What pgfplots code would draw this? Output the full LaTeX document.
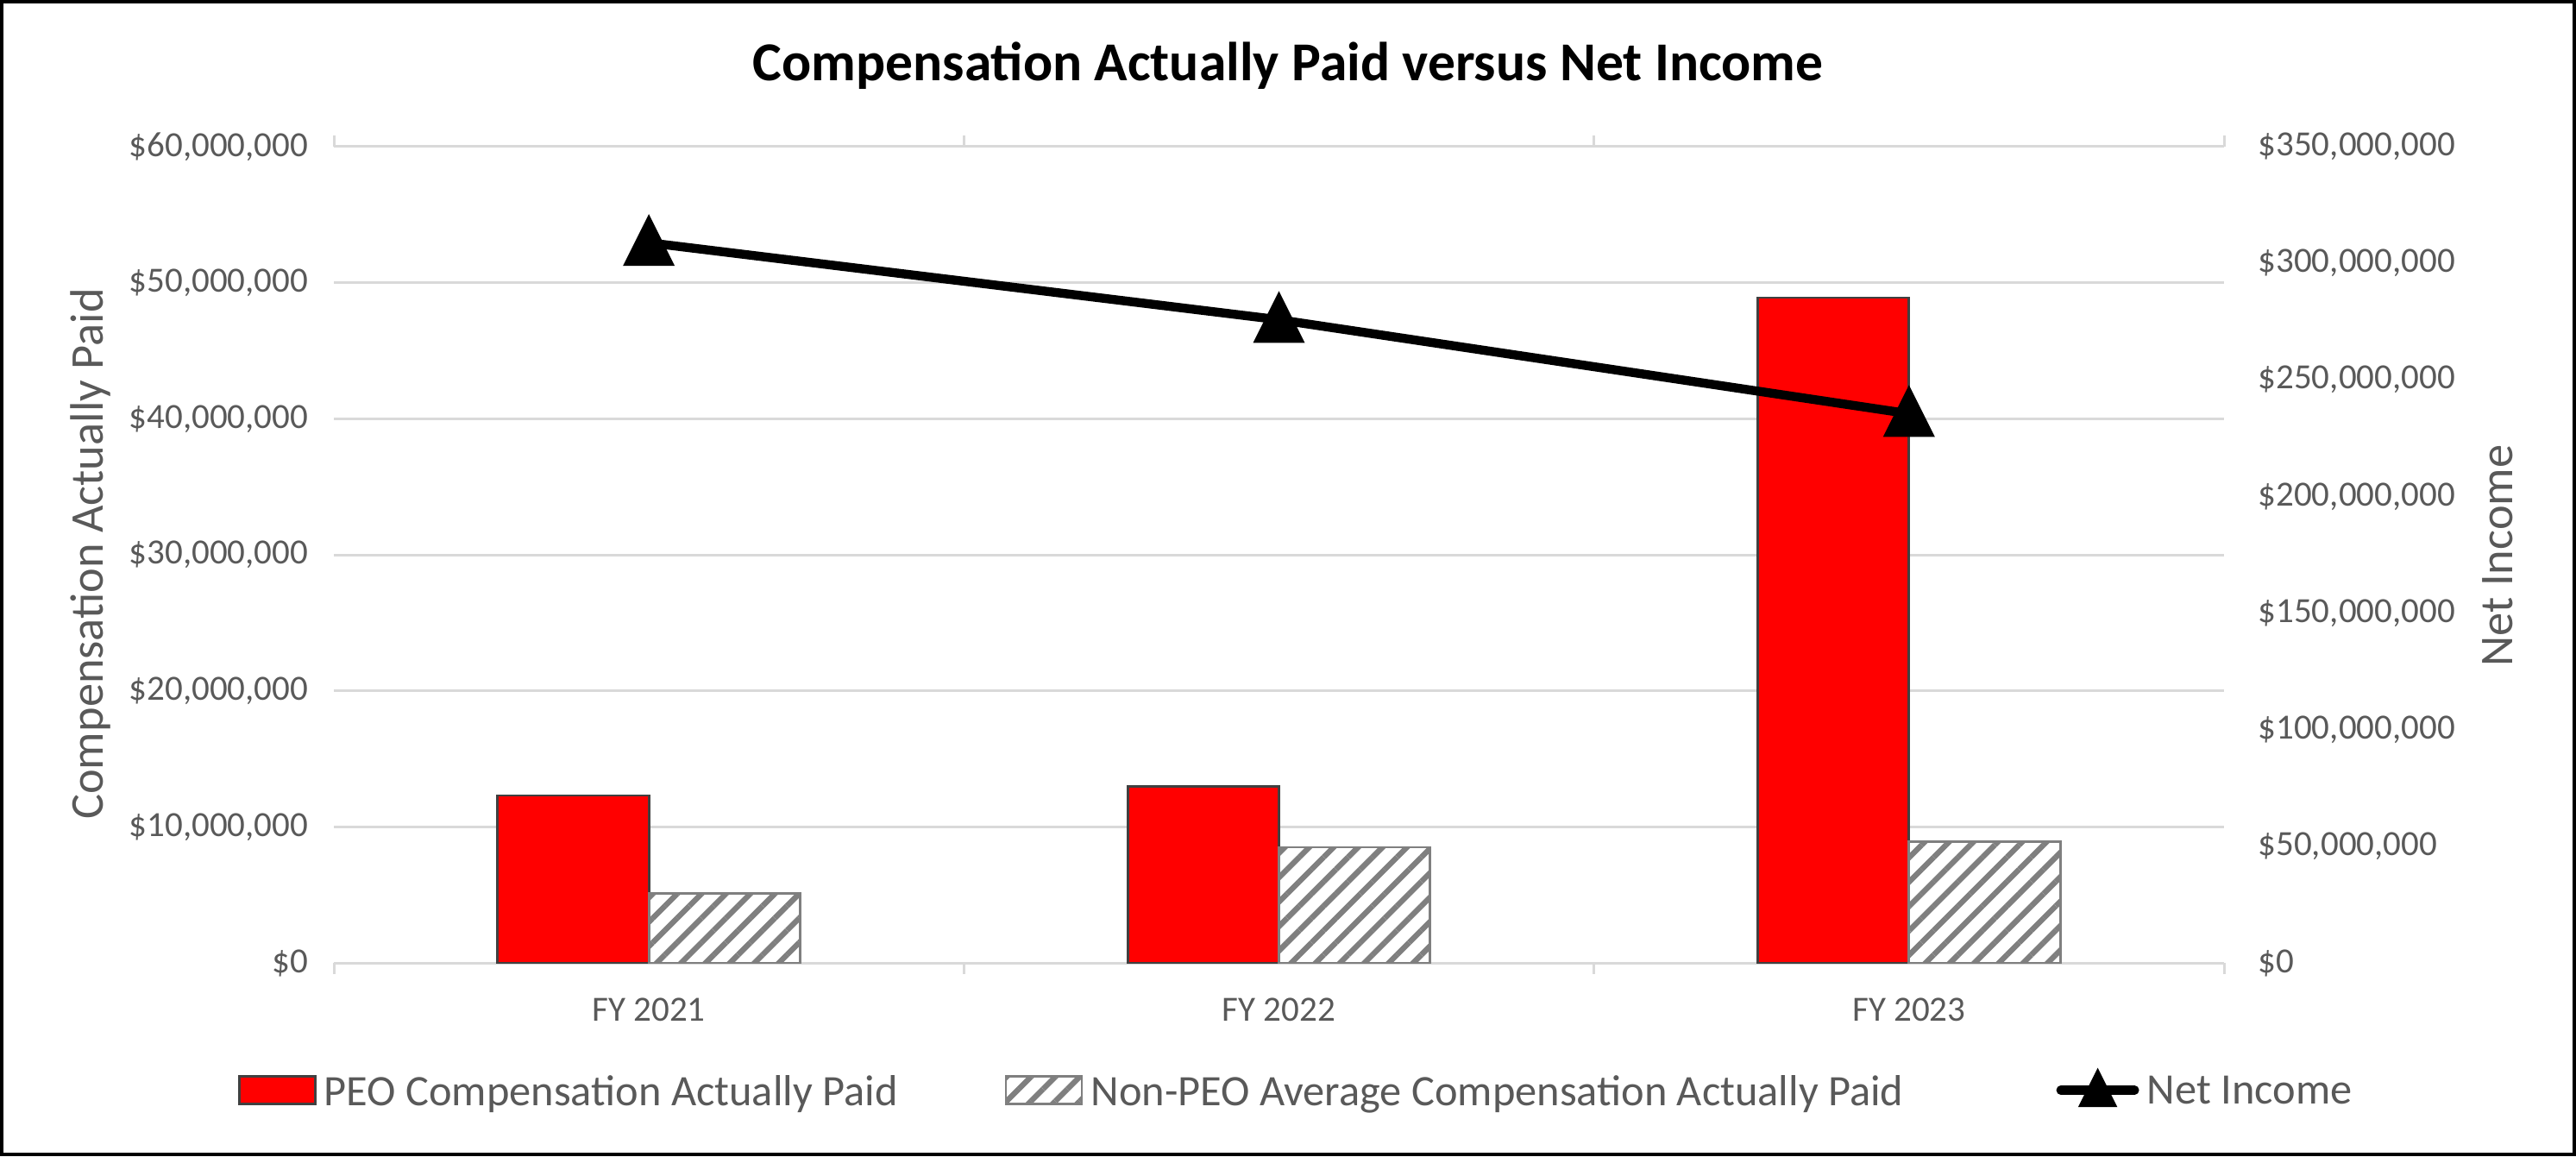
\documentclass[border=0pt]{standalone}
\usepackage{pgfplots}
\pgfplotsset{compat=1.18}
\usepackage{fontspec}
\setmainfont{Carlito}
\usetikzlibrary{patterns.meta}
\definecolor{txt}{HTML}{595959}
\definecolor{grd}{HTML}{D9D9D9}
\definecolor{hatch}{HTML}{7F7F7F}
\definecolor{bedge}{HTML}{404040}
\begin{document}
\begin{tikzpicture}
\useasboundingbox (0,0) rectangle (746.5pt,335pt);
\draw[black, line width=0.9pt] (0.45pt,0.45pt) rectangle (746.05pt,334.55pt);
\node[font=\fontsize{15.9}{19}\selectfont\bfseries, text=black] at (373.25pt,316pt) {Compensation Actually Paid versus Net Income};
\node[rotate=90, font=\fontsize{13.6}{16}\selectfont, text=txt] at (26.25pt,174.5pt) {Compensation Actually Paid};
\node[rotate=90, font=\fontsize{13.6}{16}\selectfont, text=txt] at (723.75pt,174pt) {Net Income};

\begin{axis}[
  at={(96.75pt,56pt)}, anchor=south west, scale only axis,
  width=547.75pt, height=236.5pt,
  xmin=-0.5, xmax=2.5, ymin=0, ymax=60000000,
  xtick={0,1,2}, xticklabels={FY 2021,FY 2022,FY 2023},
  ytick={0,10000000,20000000,30000000,40000000,50000000,60000000},
  yticklabels={{\$0},{\$10,000,000},{\$20,000,000},{\$30,000,000},{\$40,000,000},{\$50,000,000},{\$60,000,000}},
  scaled y ticks=false,
  ymajorgrids, grid style={grd, line width=0.75pt},
  axis line style={draw=none},
  major tick length=0pt,
  extra x ticks={-0.5,0.5,1.5,2.5}, extra x tick labels={},
  extra x tick style={grid=none, major tick length=3.2pt, tick align=outside, tick style={draw=grd, line width=0.75pt}},
  xticklabel style={inner sep=0pt, yshift=-10pt, font=\fontsize{10.25}{12}\selectfont, text=txt},
  yticklabel style={inner sep=0pt, anchor=east, xshift=-7.25pt, font=\fontsize{10.25}{12}\selectfont, text=txt},
]
\addplot[ybar, bar width=0.24, bar shift=-0.12, fill=red, draw=bedge, line width=0.7pt]
  coordinates {(0,12310000) (1,12950000) (2,48900000)};
\addplot[ybar, bar width=0.24, bar shift=0.12, draw=hatch, line width=0.7pt,
  pattern={Lines[angle=45,distance=5pt,line width=1.6pt]}, pattern color=hatch]
  coordinates {(0,5100000) (1,8500000) (2,8900000)};
\end{axis}

\begin{axis}[
  at={(96.75pt,56pt)}, anchor=south west, scale only axis,
  width=547.75pt, height=236.5pt,
  xmin=-0.5, xmax=2.5, ymin=0, ymax=350000000,
  xtick=\empty,
  ytick={0,50000000,100000000,150000000,200000000,250000000,300000000,350000000},
  yticklabels={{\$0},{\$50,000,000},{\$100,000,000},{\$150,000,000},{\$200,000,000},{\$250,000,000},{\$300,000,000},{\$350,000,000}},
  scaled y ticks=false,
  yticklabel pos=right,
  axis line style={draw=none},
  major tick length=0pt,
  yticklabel style={inner sep=0pt, anchor=west, xshift=9.7pt, font=\fontsize{10.25}{12}\selectfont, text=txt},
  legend columns=3,
  legend cell align=left,
  legend style={at={(0.5085,-0.156)}, anchor=center, draw=none, fill=none, inner sep=0pt,
    column sep=0pt, font=\fontsize{12.6}{15}\selectfont, text=txt,
    nodes={inner sep=0pt, text depth=0pt}},
]
\addlegendimage{legend image code/.code={\draw[fill=red, draw=bedge, line width=0.7pt] (0pt,-4pt) rectangle (22pt,4pt);}}
\addlegendentry{\rule{2.3pt}{0pt}PEO Compensation Actually Paid\rule{31pt}{0pt}}
\addlegendimage{legend image code/.code={\draw[draw=hatch, line width=0.7pt, pattern={Lines[angle=45,distance=5pt,line width=1.6pt]}, pattern color=hatch] (0pt,-4pt) rectangle (22pt,4pt);}}
\addlegendentry{\rule{2.3pt}{0pt}Non-PEO Average Compensation Actually Paid\rule{43pt}{0pt}}
\addplot[black, line width=2.6pt, mark=triangle*, mark size=7.2pt,
  mark options={solid, draw=none, fill=black, xscale=0.866, yshift=-1.8pt},
  legend image code/.code={\path (0pt,0pt) (24pt,0pt);
    \draw[black, line width=2.6pt, line cap=round] (1.3pt,0pt) -- (22.7pt,0pt);
    \fill[black] (8.4pt,-3.6pt) -- (15.6pt,-3.6pt) -- (12pt,3.6pt) -- cycle;}]
  coordinates {(0,308800000) (1,275800000) (2,235500000)};
\addlegendentry{\rule{1pt}{0pt}Net Income}
\end{axis}
\end{tikzpicture}
\end{document}
